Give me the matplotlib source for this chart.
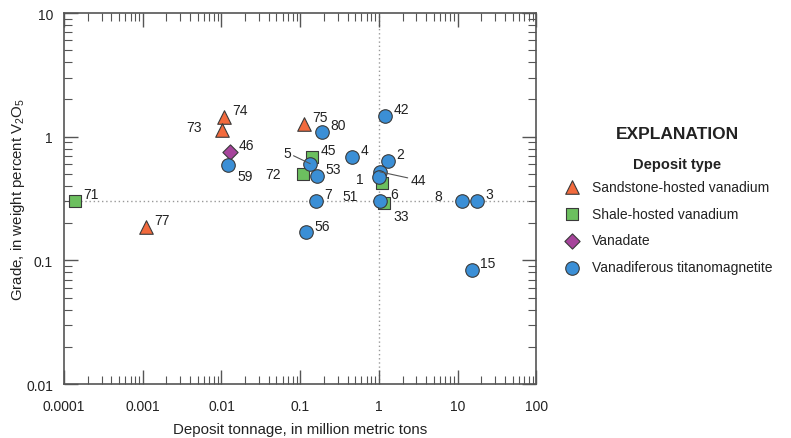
import matplotlib
matplotlib.use("Agg")
import matplotlib.pyplot as plt
from matplotlib import font_manager
from matplotlib.ticker import LogLocator, FixedLocator, FixedFormatter, NullFormatter

names = {f.name for f in font_manager.fontManager.ttflist}
fam = "Liberation Sans Narrow" if "Liberation Sans Narrow" in names else "Liberation Sans"
plt.rcParams["font.family"] = [fam, "DejaVu Sans"]
plt.rcParams["mathtext.fontset"] = "custom"
plt.rcParams["mathtext.rm"] = fam
plt.rcParams["mathtext.it"] = fam

# deposit data: id, tonnage (Mt), grade (% V2O5)
sand_ids = ["74", "73", "75", "77"]
sand_t = [0.0108, 0.0103, 0.112, 0.0011]
sand_g = [1.45, 1.14, 1.27, 0.187]

shale_ids = ["71", "45", "72", "6", "33"]
shale_t = [0.000138, 0.142, 0.109, 1.09, 1.16]
shale_g = [0.30, 0.69, 0.50, 0.42, 0.29]

vanadate_ids = ["46"]
vanadate_t = [0.0129]
vanadate_g = [0.757]

vtm_ids = ["59", "80", "5", "53", "4", "7", "56", "42", "2", "44", "1", "51", "8", "3", "15"]
vtm_t = [0.012, 0.19, 0.134, 0.164, 0.457, 0.16, 0.119, 1.2, 1.3, 1.03, 1.0, 1.03, 11.3, 17.6, 15.2]
vtm_g = [0.59, 1.1, 0.605, 0.48, 0.69, 0.30, 0.168, 1.48, 0.64, 0.52, 0.47, 0.30, 0.30, 0.30, 0.083]

# label offsets in points (dx, dy)
offsets = {
    "73": (-15, 2), "59": (7, -8), "5": (-14, 8), "72": (-16, 0),
    "1": (-11, -1), "44": (22, -6), "6": (6, -8), "51": (-16, 4),
    "33": (7, -9), "8": (-14, 4),
}
leaders = {"5", "44"}

fig = plt.figure(figsize=(7.91, 4.39), dpi=100)
ax = fig.add_axes([0.081, 0.123, 0.597, 0.845])
ax.set_xscale("log")
ax.set_yscale("log")
ax.set_xlim(1e-4, 100)
ax.set_ylim(0.01, 10)

ax.axvline(1, color="#999999", ls=(0, (1, 2)), lw=1, zorder=1)
ax.axhline(0.3, color="#999999", ls=(0, (1, 2)), lw=1, zorder=1)

ec = "#3a3a3a"
ax.scatter(shale_t, shale_g, marker="s", s=80, c="#6cbf5f", edgecolors=ec, linewidths=0.8, zorder=3,
           label="Shale-hosted vanadium")
ax.scatter(vtm_t, vtm_g, marker="o", s=95, c="#3b8fd6", edgecolors=ec, linewidths=0.8, zorder=4,
           label="Vanadiferous titanomagnetite")
ax.scatter(sand_t, sand_g, marker="^", s=95, c="#f26a3d", edgecolors=ec, linewidths=0.8, zorder=3,
           label="Sandstone-hosted vanadium")
ax.scatter(vanadate_t, vanadate_g, marker="D", s=60, c="#a6449b", edgecolors=ec, linewidths=0.8, zorder=3,
           label="Vanadate")

for ids, ts, gs in [(sand_ids, sand_t, sand_g), (shale_ids, shale_t, shale_g),
                    (vanadate_ids, vanadate_t, vanadate_g), (vtm_ids, vtm_t, vtm_g)]:
    for i, t, g in zip(ids, ts, gs):
        dx, dy = offsets.get(i, (6, 5))
        arrow = dict(arrowstyle="-", color="#555555", lw=0.8, shrinkA=0, shrinkB=0) if i in leaders else None
        ax.annotate(i, (t, g), xytext=(dx, dy), textcoords="offset points",
                    ha="left" if dx >= 0 else "right", va="center", fontsize=10,
                    color="#222222", arrowprops=arrow, zorder=5)

ax.xaxis.set_major_locator(FixedLocator([1e-4, 1e-3, 1e-2, 0.1, 1, 10, 100]))
ax.xaxis.set_major_formatter(FixedFormatter(["0.0001", "0.001", "0.01", "0.1", "1", "10", "100"]))
ax.yaxis.set_major_locator(FixedLocator([0.01, 0.1, 1, 10]))
ax.yaxis.set_major_formatter(FixedFormatter(["0.01", "0.1", "1", "10"]))
for a in (ax.xaxis, ax.yaxis):
    a.set_minor_locator(LogLocator(base=10, subs=range(2, 10), numticks=20))
    a.set_minor_formatter(NullFormatter())
ax.tick_params(which="both", direction="in", top=True, right=True, color="#555555", labelsize=10,
               labelcolor="#222222")
ax.tick_params(which="major", length=10, width=1)
ax.tick_params(which="minor", length=6, width=0.8)
ax.tick_params(axis="x", which="major", pad=11)
ax.tick_params(axis="y", which="major", pad=8)
for s in ax.spines.values():
    s.set_color("#555555")
    s.set_linewidth(1.2)

ax.set_xlabel("Deposit tonnage, in million metric tons", fontsize=10.8, color="#222222", labelpad=6)
ax.set_ylabel("Grade, in weight percent V$_2$O$_5$", fontsize=10.8, color="#222222")
ax.yaxis.set_label_coords(-0.078, 0.5)

# legend
fig.text(0.857, 0.694, "EXPLANATION", ha="center", va="center", fontsize=12.5, fontweight="bold", color="#222222")
fig.text(0.856, 0.624, "Deposit type", ha="center", va="center", fontsize=10.5, fontweight="bold", color="#222222")
handles, labels = ax.get_legend_handles_labels()
order = [2, 0, 3, 1]
leg = fig.legend([handles[k] for k in order], [labels[k] for k in order],
                 loc="upper left", bbox_to_anchor=(0.713, 0.588), frameon=False,
                 borderaxespad=0, borderpad=0,
                 fontsize=10, handletextpad=0.8, labelspacing=0.92, handlelength=1.2)
for t in leg.get_texts():
    t.set_color("#222222")

fig.savefig("out.png", dpi=100)
